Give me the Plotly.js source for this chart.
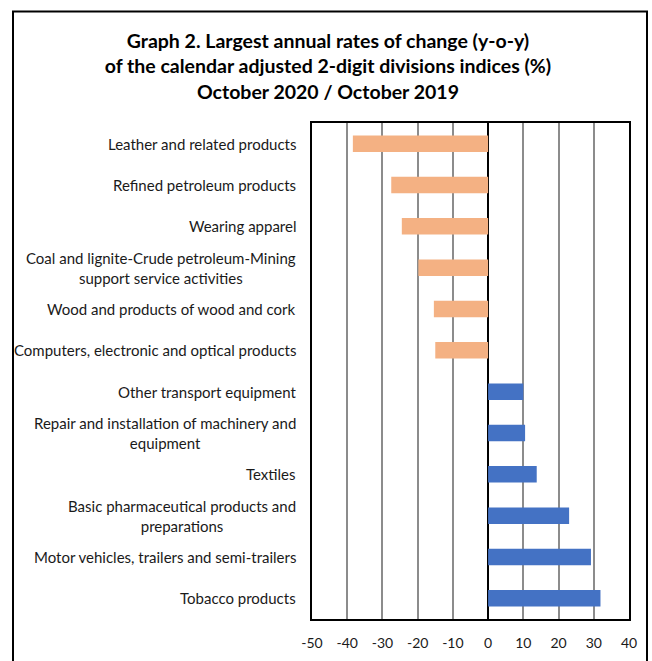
<!DOCTYPE html>
<html>
<head>
<meta charset="utf-8">
<script src="https://cdn.plot.ly/plotly-3.0.1.min.js"></script>
<style>html,body{margin:0;padding:0;background:#fff;}#chart{width:652px;height:661px;}</style>
</head>
<body>
<div id="chart"></div>
<script>
const categories = [
  "Leather and related products",
  "Refined petroleum products",
  "Wearing apparel",
  "Coal and lignite-Crude petroleum-Mining<br>support service activities",
  "Wood and products of wood and cork",
  "Computers, electronic and optical products",
  "Other transport equipment",
  "Repair and installation of machinery and<br>equipment",
  "Textiles",
  "Basic pharmaceutical products and<br>preparations",
  "Motor vehicles, trailers and semi-trailers",
  "Tobacco products"
];
const values = [-38.4, -27.5, -24.5, -19.8, -15.4, -15.0, 10.0, 10.5, 13.8, 23.0, 29.2, 31.9];
const xTicks = [-50, -40, -30, -20, -10, 0, 10, 20, 30, 40];
const titleText = "Graph 2. Largest annual rates of change (y-o-y)<br>of the calendar adjusted 2-digit divisions indices (%)<br>October 2020 / October 2019";

const NEG = "#F4B183", POS = "#4472C4";
const W = 652, Hh = 661;
const M = {l: 312, r: 23, t: 123, b: 42, pad: 0};
const pw = W - M.l - M.r, ph = Hh - M.t - M.b;
const px = x => (x - M.l) / pw;
const py = y => (Hh - M.b - y) / ph;

const trace = {
  type: "bar",
  orientation: "h",
  y: categories,
  x: values,
  width: 0.4,
  marker: {color: values.map(v => v < 0 ? NEG : POS), line: {width: 0}},
  hoverinfo: "x+y"
};

const annotations = categories.map(c => ({
  xref: "paper", yref: "y", x: px(298), y: c,
  xanchor: "right", yanchor: "middle", align: "center",
  text: c, showarrow: false,
  font: {family: "Lato, 'Open Sans', sans-serif", size: 15, color: "#1a1a1a"}
}));

const layout = {
  width: W, height: Hh,
  margin: M,
  paper_bgcolor: "#fff", plot_bgcolor: "#fff",
  showlegend: false,
  title: {
    text: titleText,
    x: 0.503, xanchor: "center",
    y: 1 - 48 / Hh, yanchor: "middle",
    font: {family: "Lato, 'Open Sans', sans-serif", size: 19.5, color: "#000", weight: "bold"}
  },
  xaxis: {
    range: [-50, 40], tickvals: xTicks, ticktext: xTicks.map(String),
    showgrid: true, gridcolor: "#8c8c8c", gridwidth: 2,
    zeroline: true, zerolinecolor: "#000", zerolinewidth: 2,
    showline: true, linecolor: "#000", linewidth: 2, mirror: true,
    ticks: "", ticklabelstandoff: 10,
    tickfont: {family: "Lato, 'Open Sans', sans-serif", size: 14, color: "#1a1a1a"}
  },
  yaxis: {
    autorange: "reversed", showticklabels: false, ticks: "",
    showgrid: false, zeroline: false,
    showline: true, linecolor: "#000", linewidth: 2, mirror: true
  },
  annotations: annotations,
  shapes: [{
    type: "path", xref: "paper", yref: "paper",
    path: `M ${px(13)} ${py(700)} L ${px(13)} ${py(11.5)} L ${px(647)} ${py(11.5)} L ${px(647)} ${py(700)}`,
    line: {color: "#000", width: 2}
  }]
};

Plotly.newPlot("chart", [trace], layout, {displayModeBar: false, staticPlot: true});
</script>
</body>
</html>
